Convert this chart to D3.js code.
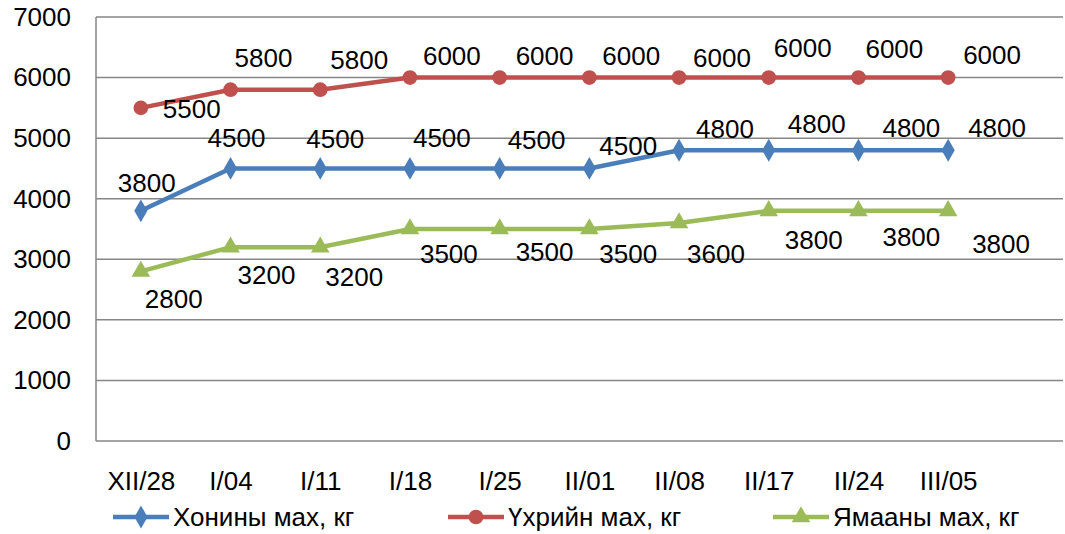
<!DOCTYPE html>
<html>
<head>
<meta charset="utf-8">
<script src="https://cdn.jsdelivr.net/npm/d3@7"></script>
<style>
  body { margin: 0; background: #fff; }
  text { font-family: "Liberation Sans", Arial, sans-serif; fill: #000; }
</style>
</head>
<body>
<script>
// categories (dates) along the bottom
const dates = ['XII/28', 'I/04', 'I/11', 'I/18', 'I/25', 'II/01', 'II/08', 'II/17', 'II/24', 'III/05']

// series values
const muttonVals = [3800, 4500, 4500, 4500, 4500, 4500, 4800, 4800, 4800, 4800]
const beefVals   = [5500, 5800, 5800, 6000, 6000, 6000, 6000, 6000, 6000, 6000]
const goatVals   = [2800, 3200, 3200, 3500, 3500, 3500, 3600, 3800, 3800, 3800]

const seriesNames = ['Хонины мах, кг', 'Үхрийн мах, кг', 'Ямааны мах, кг']
const yTicks = [0, 1000, 2000, 3000, 4000, 5000, 6000, 7000]

// label nudges (dx, dy from the point), as placed in the original
const muttonLab = [[-23,-19],[-23,-21],[-14,-20],[3,-21],[8,-19],[10,-13],[17,-12],[19,-17],[24,-13],[20,-13]]
const beefLab   = [[22,10],[4,-23],[10,-21],[13,-13],[16,-13],[13,-13],[14,-11],[5,-21],[7,-20],[15,-14]]
const goatLab   = [[4,37],[7,37],[5,39],[10,34],[16,32],[10,34],[8,40],[16,38],[24,35],[24,42]]

const W = 1065, H = 534
const plotL = 96, plotT = 17, plotB = 441, plotR = 1063
const fs = 26

const svg = d3.select('body').append('svg').attr('width', W).attr('height', H)

const x = d3.scalePoint().domain(dates).range([plotL, 993]).padding(0.5)
const y = d3.scaleLinear().domain([0, 7000]).range([plotB, plotT])

// gridlines
svg.append('g')
	.selectAll('line')
	.data(yTicks)
	.enter().append('line')
		.attr('x1', plotL).attr('x2', plotR)
		.attr('y1', (d) => y(d)).attr('y2', (d) => y(d))
		.attr('stroke', '#868686').attr('stroke-width', 1.5)

// left axis line
svg.append('line')
	.attr('x1', plotL).attr('x2', plotL)
	.attr('y1', plotT).attr('y2', plotB)
	.attr('stroke', '#868686').attr('stroke-width', 1.5)

// y labels
const yAxis = d3.axisLeft(y).tickValues(yTicks).tickFormat(d3.format('d')).tickSize(0).tickPadding(25)
const yg = svg.append('g').attr('transform', `translate(${plotL},0)`).call(yAxis)
yg.select('.domain').remove()
yg.selectAll('text').attr('font-size', fs)

// x labels
const xAxis = d3.axisBottom(x).tickSize(0).tickPadding(31)
const xg = svg.append('g').attr('transform', `translate(0,${plotB})`).call(xAxis)
xg.select('.domain').remove()
xg.selectAll('text').attr('font-size', fs)

const series = [
	{ vals: muttonVals, color: '#4A7EBB', marker: d3.symbolDiamond, size: 150, lab: muttonLab },
	{ vals: beefVals,   color: '#C0504D', marker: d3.symbolCircle,  size: 170, lab: beefLab },
	{ vals: goatVals,   color: '#9BBB59', marker: d3.symbolTriangle, size: 150, lab: goatLab }
]

const line = d3.line().x((d, i) => x(dates[i])).y((d) => y(d))

series.forEach((s) => {
	svg.append('path')
		.datum(s.vals)
		.attr('d', line)
		.attr('fill', 'none')
		.attr('stroke', s.color)
		.attr('stroke-width', 4.5)

	svg.selectAll(null)
		.data(s.vals)
		.enter().append('path')
			.attr('d', d3.symbol().type(s.marker).size(s.size))
			.attr('transform', (d, i) => `translate(${x(dates[i])},${y(d)})`)
			.attr('fill', s.color)

	svg.selectAll(null)
		.data(s.vals)
		.enter().append('text')
			.attr('x', (d, i) => x(dates[i]) + s.lab[i][0])
			.attr('y', (d, i) => y(d) + s.lab[i][1])
			.attr('font-size', fs)
			.text((d) => d)
})

// legend
const legX = [113, 448, 773]
const legY = 517
series.forEach((s, i) => {
	const g = svg.append('g')
	g.append('line')
		.attr('x1', legX[i]).attr('x2', legX[i] + 56)
		.attr('y1', legY).attr('y2', legY)
		.attr('stroke', s.color).attr('stroke-width', 4.5)
	g.append('path')
		.attr('d', d3.symbol().type(s.marker).size(s.size))
		.attr('transform', `translate(${legX[i] + 28},${legY})`)
		.attr('fill', s.color)
	g.append('text')
		.attr('x', legX[i] + 60)
		.attr('y', legY)
		.attr('dy', '0.35em')
		.attr('font-size', fs)
		.text(seriesNames[i])
})
</script>
</body>
</html>
